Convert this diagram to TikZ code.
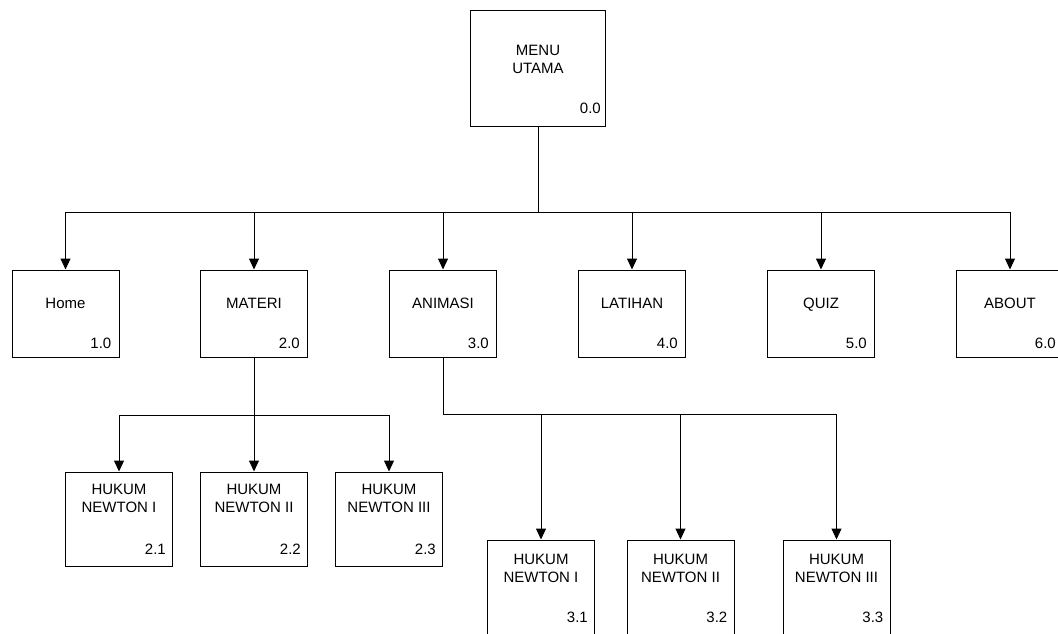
\documentclass[tikz,border=0pt]{standalone}
\usepackage{fontspec}
\setmainfont{Liberation Sans}
\usetikzlibrary{arrows.meta}
\begin{document}
\begin{tikzpicture}[x=1pt,y=-1pt,
  box/.style={draw, line width=1pt, rectangle, inner sep=0pt, minimum width=107pt},
  rowone/.style={box, minimum height=87pt},
  rowtwo/.style={box, minimum height=94pt},
  lbl/.style={font=\fontsize{15}{18}\selectfont, inner sep=0pt, anchor=base, align=center},
  num/.style={font=\fontsize{15}{18}\selectfont, inner sep=0pt, anchor=base east},
  conn/.style={line width=1pt},
  arr/.style={conn, -{Triangle[length=11pt,width=10pt]}}]
\useasboundingbox (0,0) rectangle (1058,633);
\clip (0,0) rectangle (1058,633);

% top
\node[box, minimum width=135pt, minimum height=116pt] (menu) at (538,68) {};
\node[lbl] (menut) at ([yshift=-64pt]menu.north) {MENU\\UTAMA};
\node[num] (menun) at ([xshift=-5pt,yshift=13pt]menu.south east) {0.0};

% row 1
\node[rowone] (home) at (65.5,313.5) {};
\node[rowone] (materi) at (254,313.5) {};
\node[rowone] (animasi) at (443,313.5) {};
\node[rowone] (latihan) at (632,313.5) {};
\node[rowone] (quiz) at (821,313.5) {};
\node[rowone] (about) at (1010,313.5) {};
\foreach \n/\t/\k in {home/Home/1.0, materi/MATERI/2.0, animasi/ANIMASI/3.0, latihan/LATIHAN/4.0, quiz/QUIZ/5.0, about/ABOUT/6.0}{
  \node[lbl] (\n t) at ([yshift=-39pt]\n.north) {\t};
  \node[num] (\n n) at ([xshift=-8pt,yshift=9pt]\n.south east) {\k};
}

% row 2
\node[rowtwo] (h21) at (119,519) {};
\node[rowtwo] (h22) at (254,519) {};
\node[rowtwo] (h23) at (389,519) {};
% row 3
\node[rowtwo] (h31) at (541,587) {};
\node[rowtwo] (h32) at (680.5,587) {};
\node[rowtwo] (h33) at (836.5,587) {};
\foreach \n/\t/\k/\d in {h21/I/2.1/41, h22/II/2.2/41, h23/III/2.3/41, h31/I/3.1/43, h32/II/3.2/43, h33/III/3.3/43}{
  \node[lbl] (\n t) at ([yshift=-\d pt]\n.north) {HUKUM\\NEWTON \t};
  \node[num] (\n n) at ([xshift=-7pt,yshift=12pt]\n.south east) {\k};
}

% connectors
\coordinate (b0) at (538,212);
\draw[conn] (menu.south) -- (b0);
\foreach \n in {home, materi, animasi, latihan, quiz, about}
  \draw[arr] (b0) -| (\n.north);

\coordinate (b1) at (254,415);
\draw[conn] (materi.south) -- (b1);
\foreach \n in {h21, h22, h23}
  \draw[arr] (b1) -| (\n.north);

\coordinate (b2) at (443,414);
\draw[conn] (animasi.south) -- (b2);
\foreach \n in {h31, h32, h33}
  \draw[arr] (b2) -| (\n.north);
\end{tikzpicture}
\end{document}
